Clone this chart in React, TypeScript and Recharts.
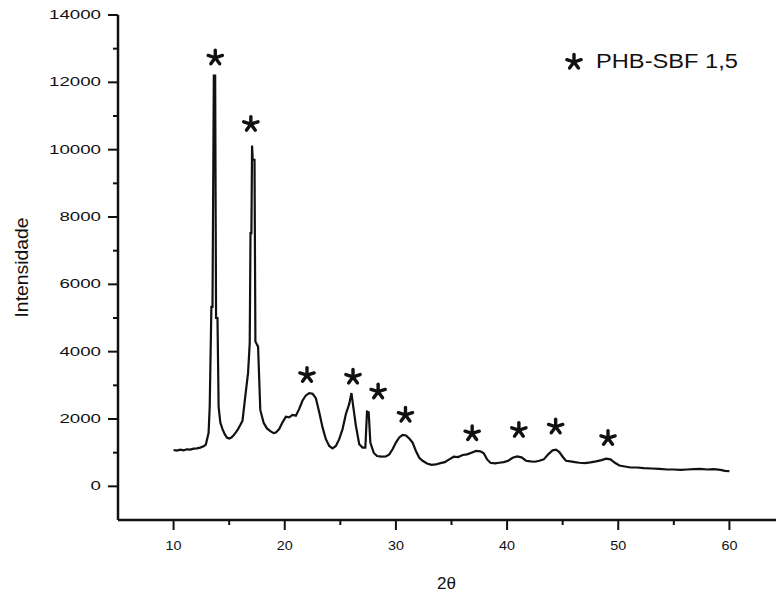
import React from "react";
import { ComposedChart, Line, Scatter, XAxis, YAxis, Legend, Label } from "recharts";

const theta = [
  10.0, 10.3, 10.6, 10.9, 11.2, 11.5, 11.8, 12.1, 12.4, 12.7, 12.9, 13.15, 13.25, 13.4, 13.5,
  13.62, 13.74, 13.82, 13.95, 14.05, 14.2, 14.4, 14.6, 14.8, 15.0, 15.2, 15.4, 15.6, 15.8, 16.0,
  16.2, 16.45, 16.7, 16.85, 16.92, 17.0, 17.06, 17.12, 17.28, 17.36, 17.6, 17.8, 18.1, 18.4,
  18.7, 19.0, 19.2, 19.5, 19.8, 20.1, 20.4, 20.7, 21.0, 21.3, 21.6, 21.9, 22.2, 22.5, 22.8,
  23.1, 23.4, 23.7, 24.0, 24.3, 24.6, 24.9, 25.2, 25.5, 25.8, 26.0, 26.15, 26.4, 26.7, 27.0,
  27.25, 27.4, 27.55, 27.7, 28.0, 28.3, 28.7, 29.1, 29.4, 29.7, 30.0, 30.3, 30.6, 30.9, 31.2,
  31.5, 31.8, 32.1, 32.4, 32.8, 33.2, 33.6, 34.0, 34.4, 34.8, 35.2, 35.6, 36.0, 36.4, 36.8,
  37.2, 37.6, 37.9, 38.2, 38.5, 38.9, 39.3, 39.7, 40.1, 40.5, 40.9, 41.3, 41.7, 42.1, 42.5,
  42.9, 43.3, 43.7, 44.1, 44.4, 44.7, 45.0, 45.3, 45.7, 46.1, 46.5, 47.0, 47.5, 48.0, 48.5,
  48.9, 49.3, 49.7, 50.1, 50.6, 51.1, 51.7, 52.3, 53.0, 53.7, 54.4, 55.0, 55.6, 56.2, 56.8,
  57.4, 58.0, 58.6, 59.2, 59.6, 60.0,
];
const counts = [
  1080, 1060, 1090, 1070, 1100, 1090, 1120, 1130, 1150, 1190, 1240, 1590, 2370, 5330, 5330,
  12200, 12200, 5000, 5000, 2370, 1900, 1700, 1550, 1450, 1420, 1450, 1520, 1600, 1700, 1820,
  1950, 2670, 3370, 4260, 7520, 7520, 10120, 9700, 9700, 4300, 4150, 2270, 1890, 1720,
  1640, 1580, 1600, 1700, 1900, 2070, 2050, 2120, 2100, 2300, 2550, 2700, 2770, 2750, 2620,
  2200, 1750, 1400, 1200, 1130, 1200, 1400, 1700, 2150, 2450, 2770, 2400, 1800, 1250, 1150,
  1150, 2220, 2200, 1300, 1000, 900, 880, 890, 950, 1100, 1300, 1450, 1530, 1510, 1420,
  1300, 1050, 850, 760, 680, 640, 650, 690, 720, 800, 880, 870, 930, 950, 1000,
  1050, 1040, 980, 800, 700, 680, 700, 720, 760, 850, 890, 860, 760, 740, 730,
  760, 800, 950, 1070, 1090, 1020, 880, 760, 740, 720, 700, 690, 710, 740, 780,
  820, 800, 700, 620, 590, 560, 560, 540, 530, 520, 500, 500, 490, 500, 510,
  520, 500, 510, 490, 460, 450,
];

// peak markers (*)
const starTheta = [13.75, 16.95, 22.0, 26.14, 28.4, 30.86, 36.86, 41.06, 44.37, 49.08];
const starCounts = [12730, 10760, 3300, 3250, 2810, 2120, 1570, 1670, 1770, 1430];

const xTicks = [10, 15, 20, 25, 30, 35, 40, 45, 50, 55, 60];
const yTicks = [0, 1000, 2000, 3000, 4000, 5000, 6000, 7000, 8000, 9000, 10000, 11000, 12000, 13000, 14000];

const seriesName = "PHB-SBF 1,5";

const pattern = theta.map((t, i) => ({ theta: t, val: counts[i] }));
const stars = starTheta.map((t, i) => ({ theta: t, val: starCounts[i] }));

const FONT = "'Liberation Sans', Arial, sans-serif";
const INK = "#111";

const Asterisk = ({ cx, cy, r = 7.5 }: { cx: number; cy: number; r?: number }) => (
  <g stroke={INK} strokeWidth={3.4} strokeLinecap="round">
    {[0, 72, 144, 216, 288].map((a) => {
      const rad = ((a - 90) * Math.PI) / 180;
      return <line key={a} x1={cx} y1={cy} x2={cx + r * Math.cos(rad)} y2={cy + r * Math.sin(rad)} />;
    })}
  </g>
);

// label anchor is axis - tickSize(10) - tickMargin(4)
const YTick = (props: any) => {
  const { x, y, payload } = props;
  const v = payload.value;
  const major = v % 2000 === 0;
  const label = String(v);
  return (
    <g>
      <line x1={x + (major ? 4 : 9)} x2={x + 14} y1={y} y2={y} stroke={INK} strokeWidth={2} />
      {major && (
        <text
          x={x - 3}
          y={y + 4}
          textAnchor="end"
          fontSize={12}
          fontFamily={FONT}
          fill={INK}
          textLength={label.length * 10.4}
          lengthAdjust="spacingAndGlyphs"
        >
          {label}
        </text>
      )}
    </g>
  );
};

// label anchor is axis + tickSize(10) + tickMargin(2)
const XTick = (props: any) => {
  const { x, y, payload } = props;
  const v = payload.value;
  const major = v % 10 === 0;
  return (
    <g>
      <line x1={x} x2={x} y1={y - 12} y2={y - (major ? 2 : 7)} stroke={INK} strokeWidth={2} />
      {major && (
        <text
          x={x}
          y={y + 18}
          textAnchor="middle"
          fontSize={13}
          fontFamily={FONT}
          fill={INK}
          textLength={16}
          lengthAdjust="spacingAndGlyphs"
        >
          {v}
        </text>
      )}
    </g>
  );
};

const LegendBox = () => (
  <svg width={200} height={40}>
    <Asterisk cx={19} cy={20} />
    <text
      x={41}
      y={26}
      fontSize={20}
      fontFamily={FONT}
      fill={INK}
      textLength={142}
      lengthAdjust="spacingAndGlyphs"
    >
      {seriesName}
    </text>
  </svg>
);

export default function App() {
  return (
    <div style={{ position: "fixed", left: 0, top: 0, width: 776, height: 597, overflow: "hidden", background: "#fff" }}>
      <ComposedChart width={805} height={597} margin={{ top: 15, right: 20, bottom: 0, left: 0 }}>
        <XAxis
          dataKey="theta"
          type="number"
          domain={[5, 65]}
          ticks={xTicks}
          allowDataOverflow
          height={77}
          tickSize={10}
          tickMargin={2}
          tickLine={false}
          tick={<XTick />}
          axisLine={{ stroke: INK, strokeWidth: 2.5 }}
        >
          <Label
            content={({ viewBox }: any) => (
              <text
                x={viewBox.x + viewBox.width / 2 - 5}
                y={viewBox.y + 69}
                textAnchor="middle"
                fontSize={17}
                fontFamily={FONT}
                fill={INK}
              >
                2θ
              </text>
            )}
          />
        </XAxis>
        <XAxis xAxisId="top" orientation="top" type="number" domain={[5, 65]} tick={false} tickLine={false} height={0} axisLine={{ stroke: INK, strokeWidth: 2.5 }} />
        <YAxis
          type="number"
          domain={[-1000, 14000]}
          ticks={yTicks}
          allowDataOverflow
          width={118}
          tickSize={10}
          tickMargin={4}
          tickLine={false}
          tick={<YTick />}
          axisLine={{ stroke: INK, strokeWidth: 2.5 }}
        >
          <Label
            content={({ viewBox }: any) => {
              const cx = 22;
              const cy = viewBox.y + viewBox.height / 2;
              return (
                <text
                  x={cx}
                  y={cy}
                  transform={`rotate(-90 ${cx} ${cy})`}
                  textAnchor="middle"
                  dominantBaseline="central"
                  fontSize={18}
                  fontFamily={FONT}
                  fill={INK}
                  textLength={100}
                  lengthAdjust="spacingAndGlyphs"
                >
                  Intensidade
                </text>
              );
            }}
          />
        </YAxis>
        <Legend
          layout="horizontal"
          verticalAlign="middle"
          align="center"
          content={<LegendBox />}
          wrapperStyle={{ position: "absolute", left: 555, top: 42, width: 200, height: 40 }}
        />
        <Line
          data={pattern}
          dataKey="val"
          type="linear"
          stroke={INK}
          strokeWidth={2.2}
          dot={false}
          isAnimationActive={false}
          legendType="none"
        />
        <Scatter
          data={stars}
          dataKey="val"
          name={seriesName}
          isAnimationActive={false}
          shape={(p: any) => <Asterisk cx={p.cx} cy={p.cy} />}
        />
      </ComposedChart>
    </div>
  );
}
